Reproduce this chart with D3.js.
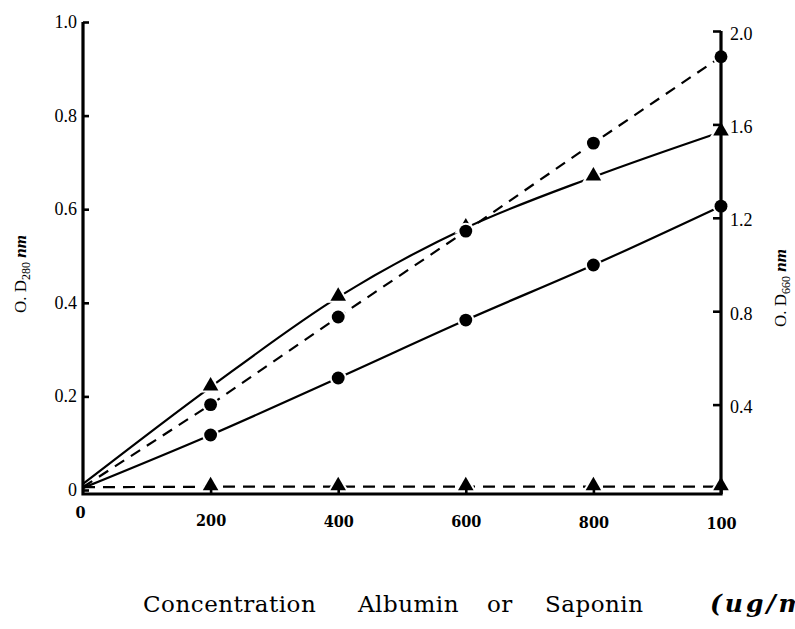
<!DOCTYPE html>
<html>
<head>
<meta charset="utf-8">
<script src="https://cdn.jsdelivr.net/npm/d3@7"></script>
<style>
  body { margin: 0; background: #fff; }
  svg { display: block; }
</style>
</head>
<body>
<svg width="795" height="629"></svg>
<script>
// concentration (ug/ml) and tick labels
const conc = [0, 200, 400, 600, 800, 1000];
const xTickLabels = ["0", "200", "400", "600", "800", "100"];
const leftTicks = [0, 0.2, 0.4, 0.6, 0.8, 1.0];
const rightTicks = [0.4, 0.8, 1.2, 1.6, 2.0];

// O.D.280 (left axis)
const triSolid = [0.013, 0.22, 0.412, 0.56, 0.669, 0.765];
const triDashed = [0.006, 0.007, 0.007, 0.007, 0.007, 0.007];
// O.D.660 (right axis)
const dotDashed = [0.047, 0.40, 0.775, 1.143, 1.52, 1.89];
const dotSolid = [0.043, 0.27, 0.514, 0.762, 0.998, 1.25];

const svg = d3.select("svg");
const baseY = 494;

const x = d3.scaleLinear().domain([0, 1000]).range([83, 721]);
const yL = d3.scaleLinear().domain([0, 1]).range([490, 22]);
const yR = d3.scaleLinear().domain([0, 2]).range([498, 31]);

const series = [
  {vals: triSolid, y: yL, dash: null, sym: d3.symbolTriangle, curve: d3.curveMonotoneX},
  {vals: triDashed, y: yL, dash: "12,8", sym: d3.symbolTriangle, curve: d3.curveLinear},
  {vals: dotDashed, y: yR, dash: "11,8", sym: d3.symbolCircle, curve: d3.curveLinear},
  {vals: dotSolid, y: yR, dash: null, sym: d3.symbolCircle, curve: d3.curveMonotoneX}
];

// lines
series.forEach(s => {
  const pts = conc.map((c, i) => [c, s.vals[i]]);
  svg.append("path")
      .attr("d", d3.line().x(d => x(d[0])).y(d => s.y(d[1])).curve(s.curve)(pts))
      .attr("fill", "none")
      .attr("stroke", "#000")
      .attr("stroke-width", 2.2)
      .attr("stroke-dasharray", s.dash);
});

// markers (white halo leaves the small gaps seen in the print)
series.forEach(s => {
  const pts = conc.map((c, i) => [c, s.vals[i]]).slice(1);
  const size = s.sym === d3.symbolCircle ? 130 : 105;
  svg.append("g")
    .selectAll("path")
    .data(pts)
    .join("path")
      .attr("transform", d => `translate(${x(d[0])},${s.y(d[1]) - (s.sym === d3.symbolTriangle ? 1 : 0)})`)
      .attr("d", d3.symbol().type(s.sym).size(size))
      .attr("fill", "#000")
      .attr("stroke", "#fff")
      .attr("stroke-width", 4)
      .attr("paint-order", "stroke");
});

// frame: left, bottom, right
svg.append("path")
    .attr("d", `M${x(0)},${yL(1)}V${baseY}H${x(1000)}V${yR(2)}`)
    .attr("fill", "none")
    .attr("stroke", "#000")
    .attr("stroke-width", 3.2);

const tickFont = "'Liberation Serif', 'Times New Roman', serif";

const gl = svg.append("g")
    .attr("transform", `translate(${x(0)},0)`)
    .call(d3.axisLeft(yL).tickValues(leftTicks).tickSize(-6).tickPadding(6)
      .tickFormat(d => d === 0 ? "0" : d.toFixed(1)));

const gr = svg.append("g")
    .attr("transform", `translate(${x(1000)},0)`)
    .call(d3.axisRight(yR).tickValues(rightTicks).tickSize(-8).tickPadding(9)
      .tickFormat(d => d.toFixed(1)));

const gb = svg.append("g")
    .attr("transform", `translate(0,${baseY})`)
    .call(d3.axisBottom(x).tickValues(conc).tickSize(-9).tickPadding(19)
      .tickFormat((d, i) => xTickLabels[i]));

[gl, gr, gb].forEach(g => {
  g.select(".domain").remove();
  g.selectAll("line").attr("stroke", "#000").attr("stroke-width", 2.6);
  g.selectAll("text").attr("fill", "#000").attr("font-family", tickFont);
});
gl.selectAll("text").style("font-size", "18px").attr("dy", "0.3em");
gr.selectAll("text").style("font-size", "18px").attr("dy", "0.45em");
gb.selectAll("line").filter(d => d === 0).remove();
gb.selectAll("text")
    .style("font-size", "17px")
    .attr("font-family", "'DejaVu Serif', serif")
    .attr("font-weight", "bold");
gb.selectAll(".tick").each(function(d) {
  d3.select(this).select("text")
    .attr("transform", `translate(${d === 0 ? -3 : 0},${d === 0 ? -7 : d / 1000 * 4}) scale(0.85,1)`);
});

// axis titles
function yTitle(cx, cy, sub) {
  const t = svg.append("text")
      .attr("transform", `translate(${cx},${cy}) rotate(-90)`)
      .attr("text-anchor", "middle")
      .attr("font-family", tickFont)
      .attr("font-size", 17)
      .attr("fill", "#000");
  t.append("tspan").text("O. D");
  t.append("tspan").attr("font-size", 12).attr("dy", 4).text(sub);
  t.append("tspan").attr("dy", -4).attr("font-weight", "bold").attr("font-style", "italic").text(" nm");
}
yTitle(26, 274, "280");
yTitle(786, 288, "660");

const xt = svg.append("text")
    .attr("y", 612)
    .attr("font-family", "'DejaVu Serif', serif")
    .attr("font-size", 23)
    .attr("letter-spacing", 0.5)
    .attr("fill", "#000");
[["Concentration", 143], ["Albumin", 358], ["or", 487], ["Saponin", 545]].forEach(w => {
  xt.append("tspan").attr("x", w[1]).text(w[0]);
});
// the print is cropped at the right edge, as in the original
xt.append("tspan").attr("x", 710).attr("font-size", 25).attr("letter-spacing", 3)
    .attr("font-style", "italic").attr("font-weight", "bold").text("(ug/ml)");
</script>
</body>
</html>
